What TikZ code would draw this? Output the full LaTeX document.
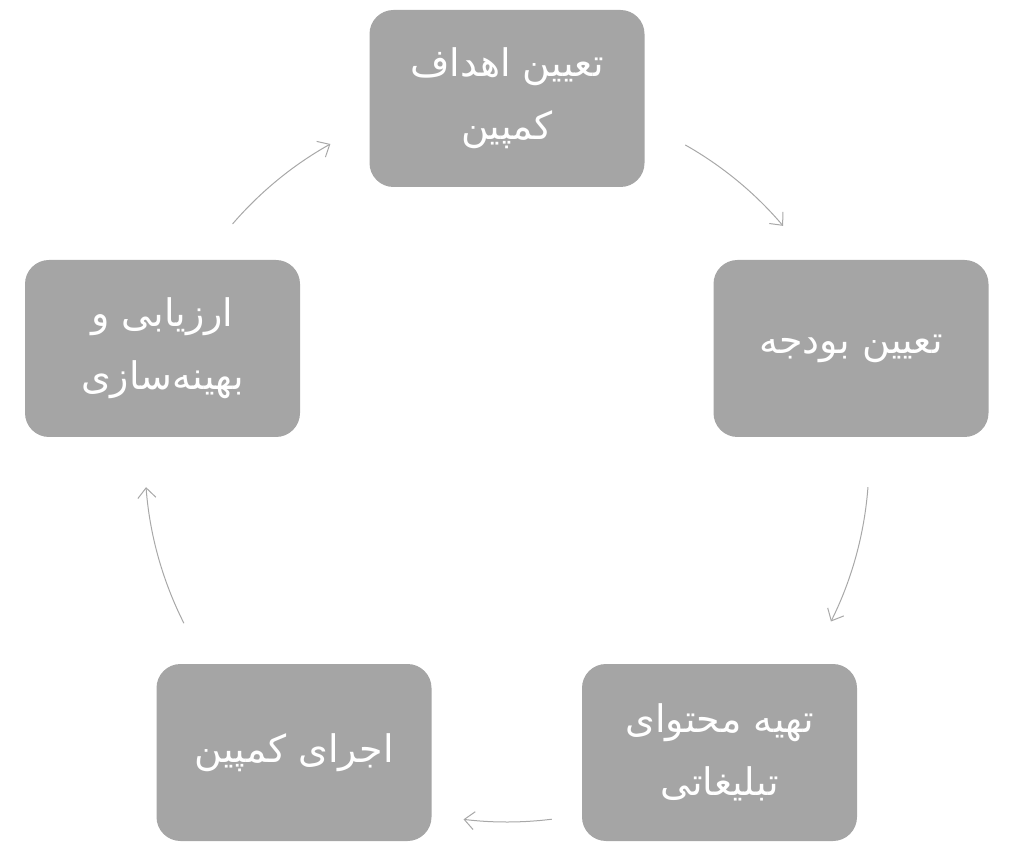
\documentclass[tikz,border=0pt]{standalone}
\usepackage{fontspec}
\newfontfamily\arabicfont[Script=Arabic]{DejaVu Sans}
\TeXXeTstate=1
\usetikzlibrary{arrows.meta}
\definecolor{boxgray}{HTML}{A5A5A5}
\definecolor{arrowgray}{HTML}{A8A8A8}

\begin{document}
\begin{tikzpicture}[x=0.5pt, y=0.5pt,
	stage/.style={fill=boxgray, rounded corners=12pt, minimum width=137.5pt, minimum height=88.5pt, text=white, align=center, font=\arabicfont\fontsize{19}{31.5}\selectfont},
	cycle/.style={draw=arrowgray, line width=0.5pt, -{Straight Barb[length=5pt,width=9pt]}}]
			\useasboundingbox (0,0) rectangle (1012,852);
			\coordinate (c) at (507,392);
			\node[stage] (goals) at (507,753.5) {\beginR تعیین اهداف\endR\\\beginR کمپین\endR};
			\node[stage] (budget) at (851,503.5) {\beginR تعیین بودجه\endR};
			\node[stage] (content) at (719.5,99.5) {\beginR تهیه محتوای\endR\\\beginR تبلیغاتی\endR};
			\node[stage] (run) at (294,99.5) {\beginR اجرای کمپین\endR};
			\node[stage] (review) at (162.5,503.5) {\beginR ارزیابی و\endR\\\beginR بهینه‌سازی\endR};
			\path (c) ++(60.5:362) coordinate (s1);
			\path (c) ++(-4.3:362) coordinate (s2);
			\path (c) ++(-82.9:362) coordinate (s3);
			\path (c) ++(-153.2:362) coordinate (s4);
			\path (c) ++(139.3:362) coordinate (s5);
			\draw[cycle] (s1) arc[start angle=60.5, end angle=40.3, radius=362];
			\draw[cycle] (s2) arc[start angle=-4.3, end angle=-26.5, radius=362];
			\draw[cycle] (s3) arc[start angle=-82.9, end angle=-96.9, radius=362];
			\draw[cycle] (s4) arc[start angle=-153.2, end angle=-175.7, radius=362];
			\draw[cycle] (s5) arc[start angle=139.3, end angle=119.2, radius=362];
		\end{tikzpicture}
\end{document}
